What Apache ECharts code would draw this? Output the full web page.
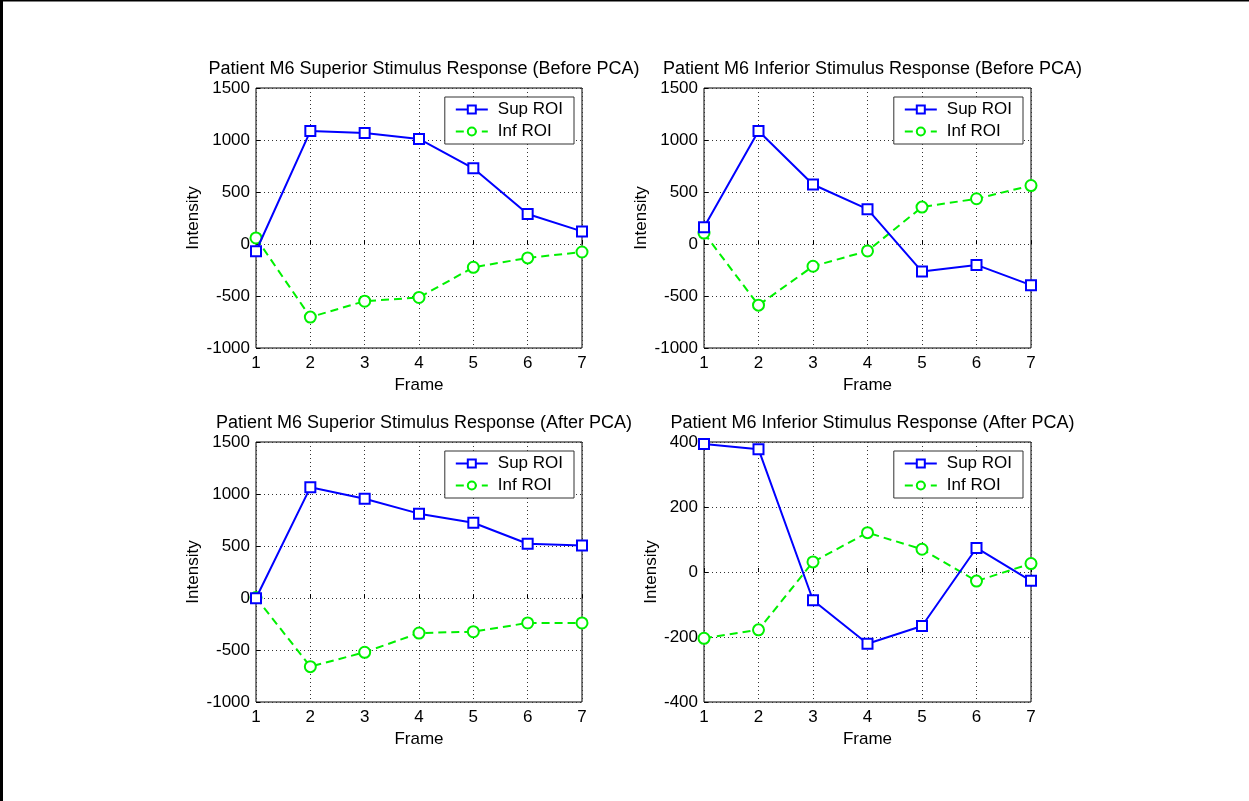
<!DOCTYPE html>
<html>
<head>
<meta charset="utf-8">
<script src="https://cdn.jsdelivr.net/npm/echarts@6/dist/echarts.min.js"></script>
<style>
  html, body { margin: 0; padding: 0; background: #fff; }
  #chart { width: 1249px; height: 801px; }
</style>
</head>
<body>
<div id="chart"></div>
<script>
// Frames along x, shared by all four panels
const frames = [1, 2, 3, 4, 5, 6, 7];

const titles = [
  "Patient M6 Superior Stimulus Response (Before PCA)",
  "Patient M6 Inferior Stimulus Response (Before PCA)",
  "Patient M6 Superior Stimulus Response (After PCA)",
  "Patient M6 Inferior Stimulus Response (After PCA)",
];

// Intensity values
const supBeforeSup = [-70, 1086, 1067, 1010, 728, 288, 121];
const infBeforeSup = [58, -703, -550, -514, -224, -134, -77];
const supBeforeInf = [160, 1086, 572, 335, -265, -201, -396];
const infBeforeInf = [105, -588, -214, -67, 355, 435, 562];
const supAfterSup = [-3, 1064, 955, 811, 724, 522, 506];
const infAfterSup = [4, -660, -522, -337, -324, -240, -240];
const supAfterInf = [394, 378, -87, -221, -166, 74, -27];
const infAfterInf = [-204, -178, 31, 121, 70, -28, 26];

const supSets = [supBeforeSup, supBeforeInf, supAfterSup, supAfterInf];
const infSets = [infBeforeSup, infBeforeInf, infAfterSup, infAfterInf];

// y ranges per panel
const yRanges = [
  { min: -1000, max: 1500, interval: 500 },
  { min: -1000, max: 1500, interval: 500 },
  { min: -1000, max: 1500, interval: 500 },
  { min: -400, max: 400, interval: 200 },
];

const FONT = '"Liberation Sans", Arial, sans-serif';
const BLUE = "#0000ff";
const GREEN = "#00f000";

// panel boxes in px: left, top, width, height, y-name gap
const boxes = [
  { l: 256, t: 88, w: 326, h: 260, ng: 54 },
  { l: 704, t: 88, w: 327, h: 260, ng: 54 },
  { l: 256, t: 442, w: 326, h: 260, ng: 54 },
  { l: 704, t: 442, w: 327, h: 260, ng: 42 },
];

const W = 1249;
const txt = { color: "#000", fontFamily: FONT, fontSize: 17 };
const dotted = { color: "#333", type: [1, 3], width: 1 };
const tick = { inside: true, length: 4, lineStyle: { color: "#000" } };

const grid = [], xAxis = [], yAxis = [], series = [], title = [], legend = [];

boxes.forEach((b, i) => {
  grid.push({
    left: b.l, top: b.t, width: b.w, height: b.h,
    show: true, borderColor: "#000", borderWidth: 1, backgroundColor: "#fff",
  });
  title.push({
    text: titles[i],
    left: b.l + b.w / 2, top: b.t - 33, textAlign: "center",
    textStyle: { ...txt, fontSize: 18, fontWeight: "normal" },
  });
  xAxis.push({
    type: "value", gridIndex: i, min: 1, max: 7, interval: 1,
    name: "Frame", nameLocation: "middle", nameGap: 29,
    nameTextStyle: { ...txt },
    axisLine: { show: false },
    axisTick: tick,
    axisLabel: { ...txt, margin: 7 },
    splitLine: { show: true, lineStyle: dotted },
  });
  yAxis.push({
    type: "value", gridIndex: i, ...yRanges[i],
    name: "Intensity", nameLocation: "middle", nameGap: b.ng,
    nameTextStyle: { ...txt },
    axisLine: { show: false },
    axisTick: tick,
    axisLabel: { ...txt, margin: 6, formatter: (v) => String(v) },
    splitLine: { show: true, lineStyle: dotted },
  });
  series.push({
    name: "Sup ROI", type: "line", xAxisIndex: i, yAxisIndex: i,
    data: frames.map((f, k) => [f, supSets[i][k]]),
    symbol: "rect", symbolSize: 10, showAllSymbol: true,
    lineStyle: { color: BLUE, width: 2 },
    itemStyle: { color: "#fff", borderColor: BLUE, borderWidth: 2 },
    emphasis: { disabled: true }, z: 3,
  });
  series.push({
    name: "Inf ROI", type: "line", xAxisIndex: i, yAxisIndex: i,
    data: frames.map((f, k) => [f, infSets[i][k]]),
    symbol: "circle", symbolSize: 11, showAllSymbol: true,
    lineStyle: { color: GREEN, width: 2, type: [8, 5] },
    itemStyle: { color: "#fff", borderColor: GREEN, borderWidth: 2 },
    emphasis: { disabled: true }, z: 2,
  });
  legend.push({
    orient: "vertical",
    right: W - (b.l + b.w - 8), top: b.t + 9,
    backgroundColor: "#fff",
    borderColor: "#333", borderWidth: 1,
    padding: [4, 11, 4, 10],
    itemGap: 5, itemWidth: 32, itemHeight: 10,
    textStyle: { ...txt, padding: [0, 0, 0, 5] },
    data: ["Sup ROI", "Inf ROI"],
    selectedMode: false,
  });
});

const chart = echarts.init(document.getElementById("chart"), null, { renderer: "canvas" });
chart.setOption({
  backgroundColor: "#fff",
  animation: false,
  title, grid, xAxis, yAxis, series, legend,
  graphic: [
    { type: "line", shape: { x1: 1.5, y1: 0, x2: 1.5, y2: 801 }, style: { stroke: "#000", lineWidth: 3 } },
    { type: "line", shape: { x1: 0, y1: 0.5, x2: 1249, y2: 0.5 }, style: { stroke: "#000", lineWidth: 2 } },
  ],
});
</script>
</body>
</html>
